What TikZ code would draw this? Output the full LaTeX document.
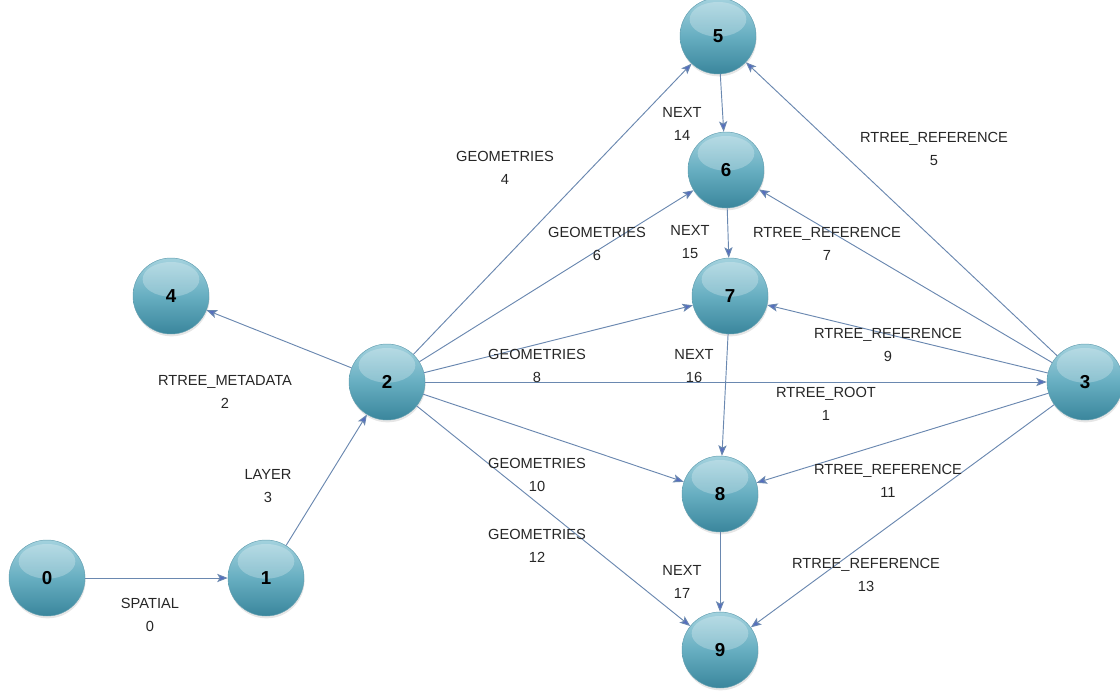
\documentclass[tikz,border=0pt]{standalone}
\usepackage{fontspec}
\setmainfont{Liberation Sans}
\usetikzlibrary{arrows.meta, shadows}

\definecolor{ballTop}{HTML}{A3D2DE}
\definecolor{ballMid}{HTML}{67AEC1}
\definecolor{ballBot}{HTML}{3A869C}
\definecolor{edgeCol}{HTML}{6A88B0}

\begin{document}
\begin{tikzpicture}[x=0.03cm, y=-0.03cm,
  ball/.style={circle, minimum size=2.28cm, inner sep=0pt, draw=ballBot!80!white, line width=0.4pt,
    top color=ballTop, bottom color=ballBot, middle color=ballMid,
    drop shadow={opacity=.2, shadow xshift=0.5pt, shadow yshift=-2pt},
    path picture={\fill[white, opacity=.25] ([yshift=-0.64cm]path picture bounding box.north) ellipse [x radius=0.85cm, y radius=0.52cm];},
    font=\fontsize{16}{16}\selectfont\bfseries},
  arrow/.style={draw=edgeCol, line width=0.8pt, -{Stealth[length=9pt, width=7pt, inset=2pt, fill=edgeCol!80!blue]}},
  lbl/.style={align=center, font=\fontsize{12.5}{20}\selectfont, text=black!85}]
\useasboundingbox (0,0) rectangle (1120,697);

% nodes
\node[ball] (n0) at (47,578) {0};
\node[ball] (n1) at (266,578) {1};
\node[ball] (n2) at (387,382) {2};
\node[ball] (n3) at (1085,382) {3};
\node[ball] (n4) at (171,296) {4};
\node[ball] (n5) at (718,36) {5};
\node[ball] (n6) at (726,170) {6};
\node[ball] (n7) at (730,296) {7};
\node[ball] (n8) at (720,494) {8};
\node[ball] (n9) at (720,650) {9};

% edges
\draw[arrow] (n0) -- (n1);
\draw[arrow] (n1) -- (n2);
\draw[arrow] (n2) -- (n4);
\draw[arrow] (n2) -- (n5);
\draw[arrow] (n2) -- (n6);
\draw[arrow] (n2) -- (n7);
\draw[arrow] (n2) -- (n3);
\draw[arrow] (n2) -- (n8);
\draw[arrow] (n2) -- (n9);
\draw[arrow] (n5) -- (n6);
\draw[arrow] (n6) -- (n7);
\draw[arrow] (n7) -- (n8);
\draw[arrow] (n8) -- (n9);
\draw[arrow] (n3) -- (n5);
\draw[arrow] (n3) -- (n6);
\draw[arrow] (n3) -- (n7);
\draw[arrow] (n3) -- (n8);
\draw[arrow] (n3) -- (n9);

% edge labels
\node[lbl] (l0) at (150,615) {SPATIAL\\0};
\node[lbl] (l3) at (268,486) {LAYER\\3};
\node[lbl] (l2) at (225,392) {RTREE\_METADATA\\2};
\node[lbl] (l4) at (505,168) {GEOMETRIES\\4};
\node[lbl] (l6) at (597,244) {GEOMETRIES\\6};
\node[lbl] (l8) at (537,366) {GEOMETRIES\\8};
\node[lbl] (l1) at (826,404) {RTREE\_ROOT\\1};
\node[lbl] (l10) at (537,475) {GEOMETRIES\\10};
\node[lbl] (l12) at (537,546) {GEOMETRIES\\12};
\node[lbl] (l14) at (682,124) {NEXT\\14};
\node[lbl] (l15) at (690,242) {NEXT\\15};
\node[lbl] (l16) at (694,366) {NEXT\\16};
\node[lbl] (l17) at (682,582) {NEXT\\17};
\node[lbl] (l5) at (934,149) {RTREE\_REFERENCE\\5};
\node[lbl] (l7) at (827,244) {RTREE\_REFERENCE\\7};
\node[lbl] (l9) at (888,345) {RTREE\_REFERENCE\\9};
\node[lbl] (l11) at (888,481) {RTREE\_REFERENCE\\11};
\node[lbl] (l13) at (866,575) {RTREE\_REFERENCE\\13};
\end{tikzpicture}
\end{document}
